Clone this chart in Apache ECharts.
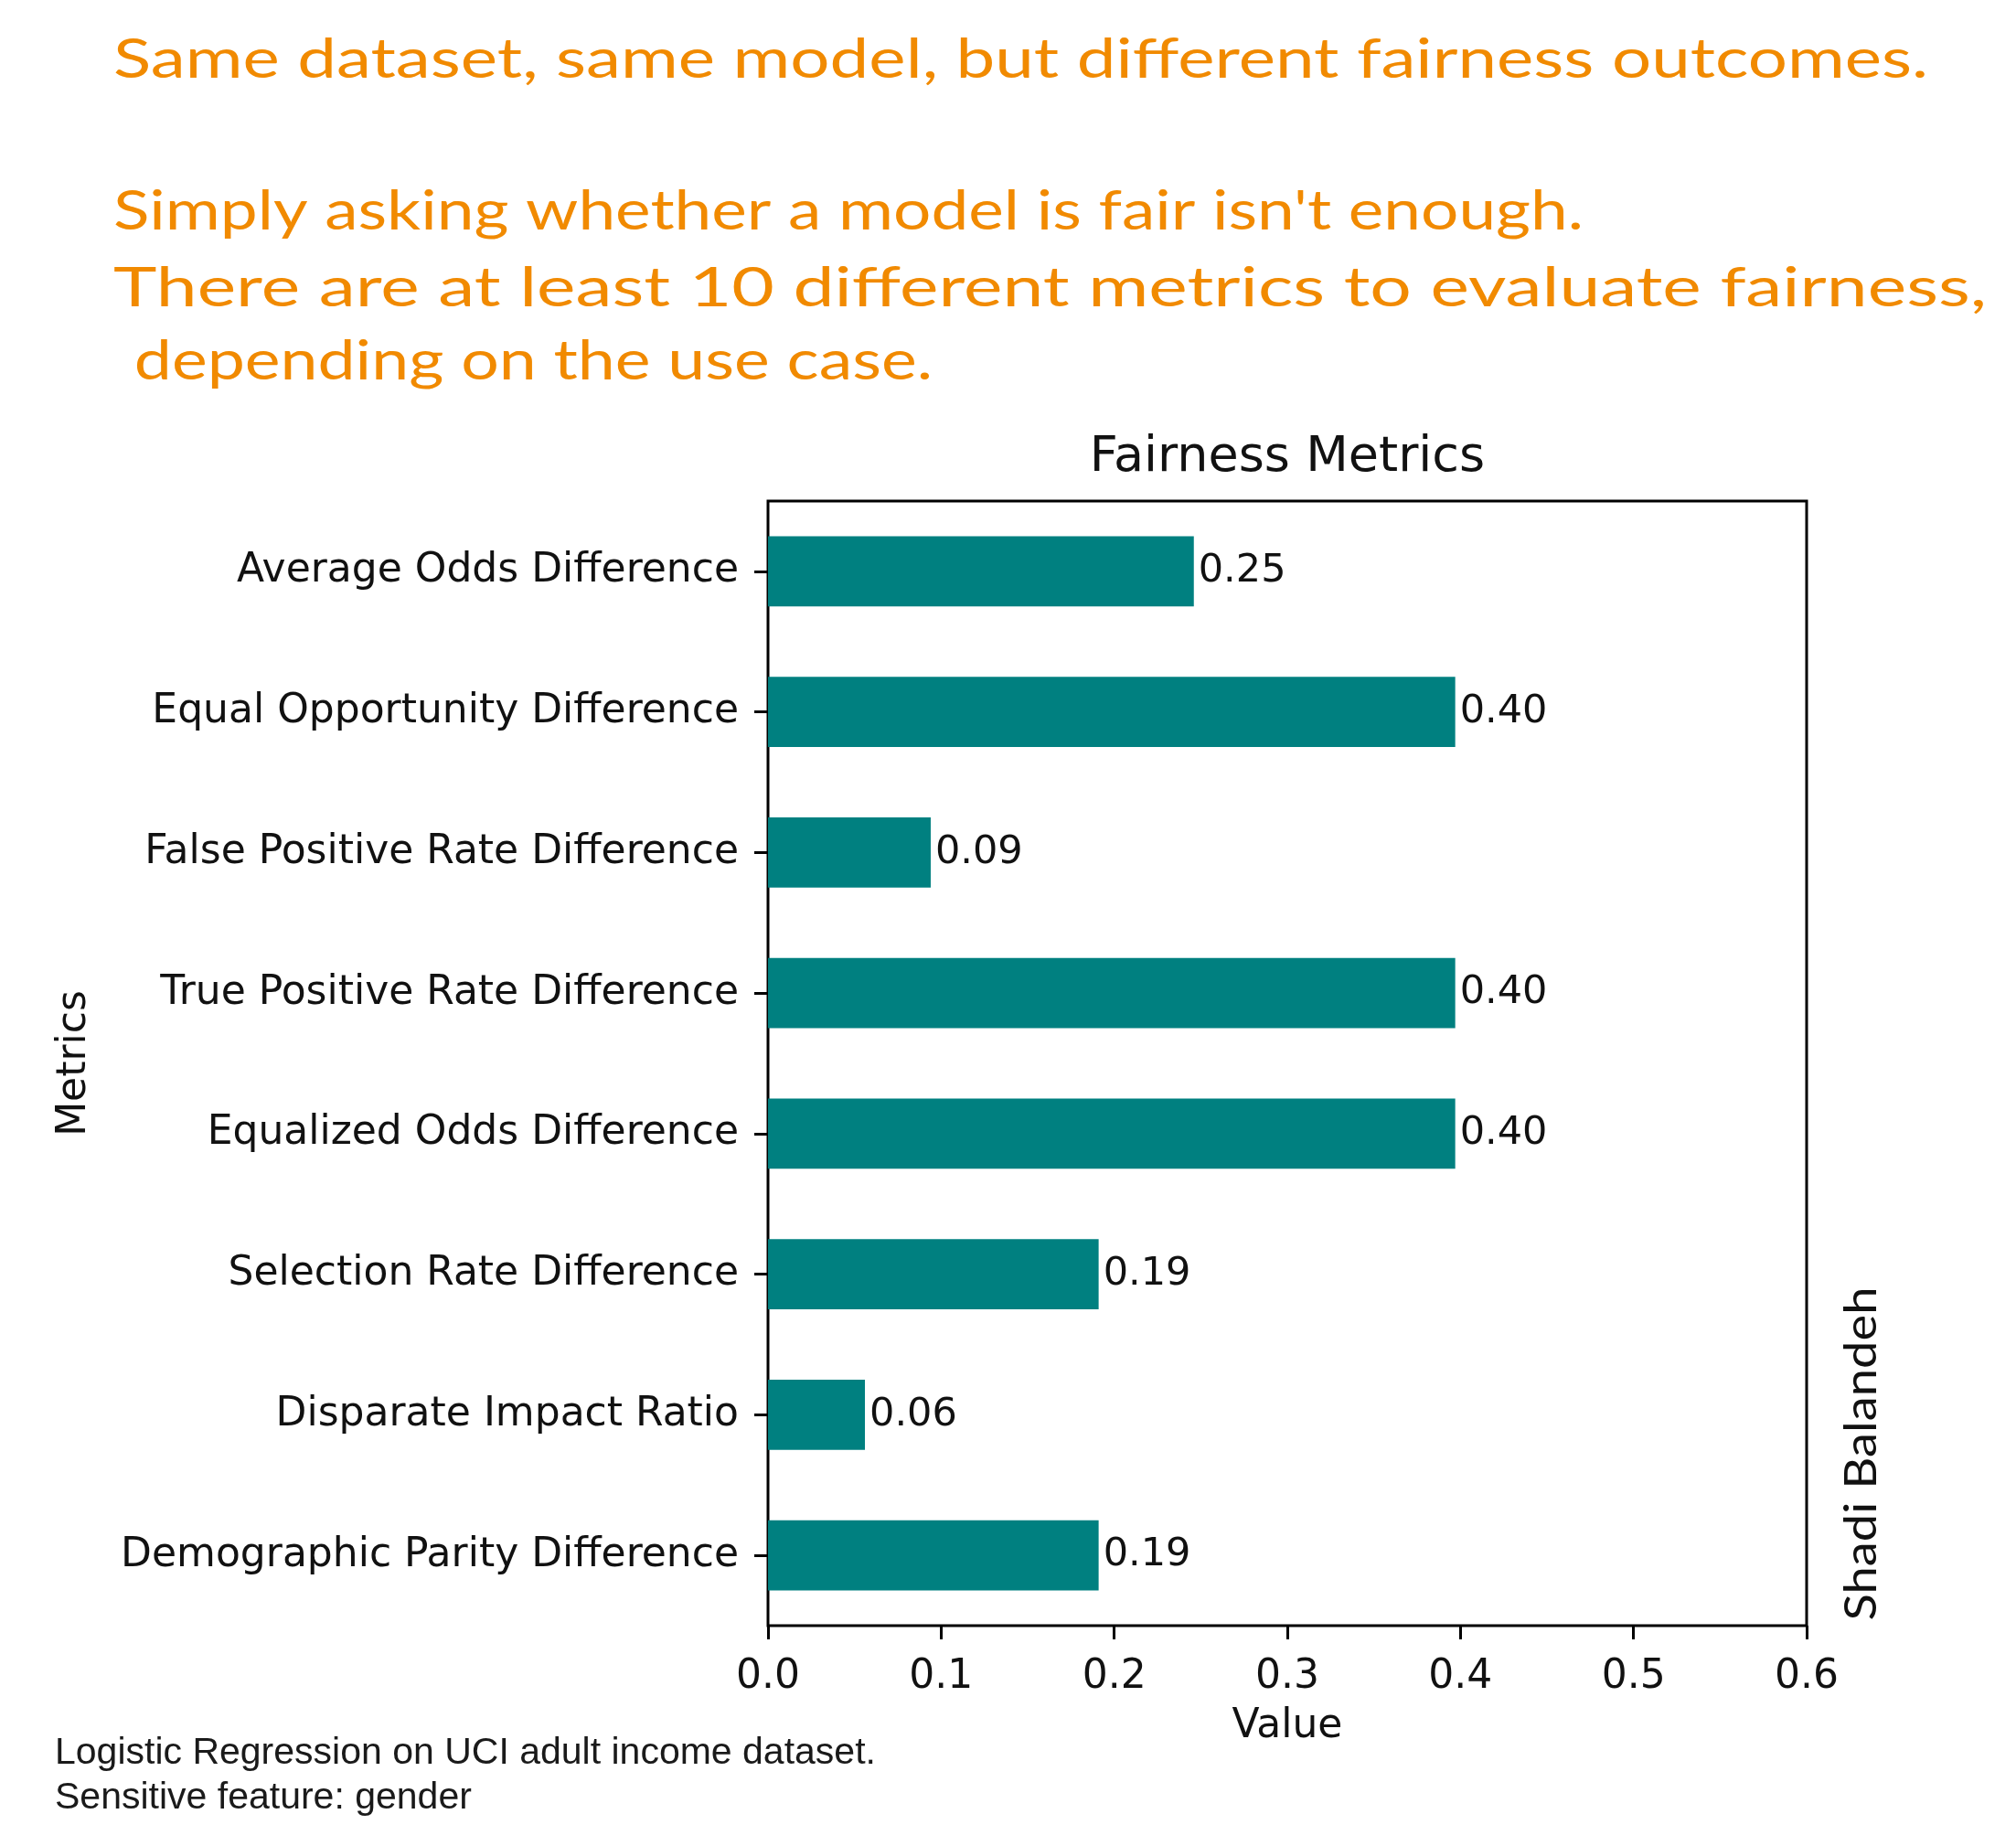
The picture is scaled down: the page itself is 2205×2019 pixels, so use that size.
<!DOCTYPE html>
<html>
<head>
<meta charset="utf-8">
<script src="https://cdn.jsdelivr.net/npm/echarts@6/dist/echarts.min.js"></script>
<style>
html,body{margin:0;padding:0;background:#fff;}
#chart{width:2205px;height:2019px;}
</style>
</head>
<body>
<div id="chart"></div>
<script>
// ---- data ----
var categories = [
  "Demographic Parity Difference",
  "Disparate Impact Ratio",
  "Selection Rate Difference",
  "Equalized Odds Difference",
  "True Positive Rate Difference",
  "False Positive Rate Difference",
  "Equal Opportunity Difference",
  "Average Odds Difference"
];
var values = [0.191, 0.056, 0.191, 0.397, 0.397, 0.094, 0.397, 0.246];
var xTicks = [0.0, 0.1, 0.2, 0.3, 0.4, 0.5, 0.6];
var headline = [
  "Same dataset, same model, but different fairness outcomes.",
  "Simply asking whether a model is fair isn't enough.",
  "There are at least 10 different metrics to evaluate fairness,",
  " depending on the use case."
];
var footnote = [
  "Logistic Regression on UCI adult income dataset.",
  "Sensitive feature: gender"
];
var signature = "Shadi Balandeh";

// ---- layout helpers ----
var handFont = "Lato";
var handSize = 60;
var measureCanvas = document.createElement('canvas').getContext('2d');
function natWidth(t, size, fam) {
  measureCanvas.font = size + 'px "' + fam + '"';
  return measureCanvas.measureText(t).width;
}
var headLayout = [
  {x: 124, y: 66, w: 1985},
  {x: 124, y: 232, w: 1608},
  {x: 124, y: 316, w: 2049},
  {x: 128, y: 396, w: 892}
];
var graphics = [];
headline.forEach(function (t, i) {
  var L = headLayout[i];
  var nw = natWidth(t, handSize, handFont);
  graphics.push({
    type: 'text', x: L.x, y: L.y, scaleX: L.w / nw,
    style: {text: t, fontSize: handSize, fontFamily: handFont, fill: '#F18A00',
            textAlign: 'left', textVerticalAlign: 'middle'}
  });
});
footnote.forEach(function (t, i) {
  graphics.push({
    type: 'text', x: 60, y: 1918 + i * 49,
    style: {text: t, fontSize: 41, fontFamily: 'Liberation Sans', fill: '#1a1a1a',
            textAlign: 'left', textVerticalAlign: 'middle'}
  });
});
(function () {
  var nw = natWidth(signature, 48, handFont);
  graphics.push({
    type: 'text', x: 2037, y: 1590, rotation: Math.PI / 2, scaleX: 365 / nw,
    style: {text: signature, fontSize: 48, fontFamily: handFont, fill: '#111',
            textAlign: 'center', textVerticalAlign: 'middle'}
  });
})();
graphics.push({
  type: 'text', x: 1408, y: 501,
  style: {text: 'Fairness Metrics', fontSize: 54, fontFamily: 'DejaVu Sans', fill: '#111',
          textAlign: 'center', textVerticalAlign: 'middle'}
});

var chart = echarts.init(document.getElementById('chart'), null, {renderer: 'canvas'});
chart.setOption({
  backgroundColor: '#fff',
  animation: false,
  grid: {left: 840, right: 229, top: 548, bottom: 241, show: true,
         borderColor: '#000', borderWidth: 3, backgroundColor: 'transparent'},
  xAxis: {
    type: 'value', min: xTicks[0], max: xTicks[xTicks.length - 1], interval: 0.1,
    name: 'Value', nameLocation: 'middle', nameGap: 89,
    nameTextStyle: {fontSize: 44, fontFamily: 'DejaVu Sans', color: '#111'},
    axisLine: {show: false},
    axisTick: {show: true, length: 15, lineStyle: {color: '#000', width: 3}},
    splitLine: {show: false},
    axisLabel: {fontSize: 44, fontFamily: 'DejaVu Sans', color: '#111', margin: 35,
                formatter: function (v) { return v.toFixed(1); }}
  },
  yAxis: {
    type: 'category', data: categories,
    name: 'Metrics', nameLocation: 'middle', nameGap: 736, nameRotate: 90,
    nameTextStyle: {fontSize: 44, fontFamily: 'DejaVu Sans', color: '#111'},
    axisLine: {show: false},
    axisTick: {show: true, length: 15, alignWithLabel: true, lineStyle: {color: '#000', width: 3}},
    splitLine: {show: false},
    axisLabel: {fontSize: 44, fontFamily: 'DejaVu Sans', color: '#111', margin: 32}
  },
  series: [{
    type: 'bar', data: values, barWidth: '50%',
    itemStyle: {color: '#008080'},
    label: {show: true, position: 'right', distance: 5, fontSize: 43,
            fontFamily: 'DejaVu Sans', color: '#111',
            formatter: function (p) { return p.value.toFixed(2); }}
  }],
  graphic: graphics
});
</script>
</body>
</html>
